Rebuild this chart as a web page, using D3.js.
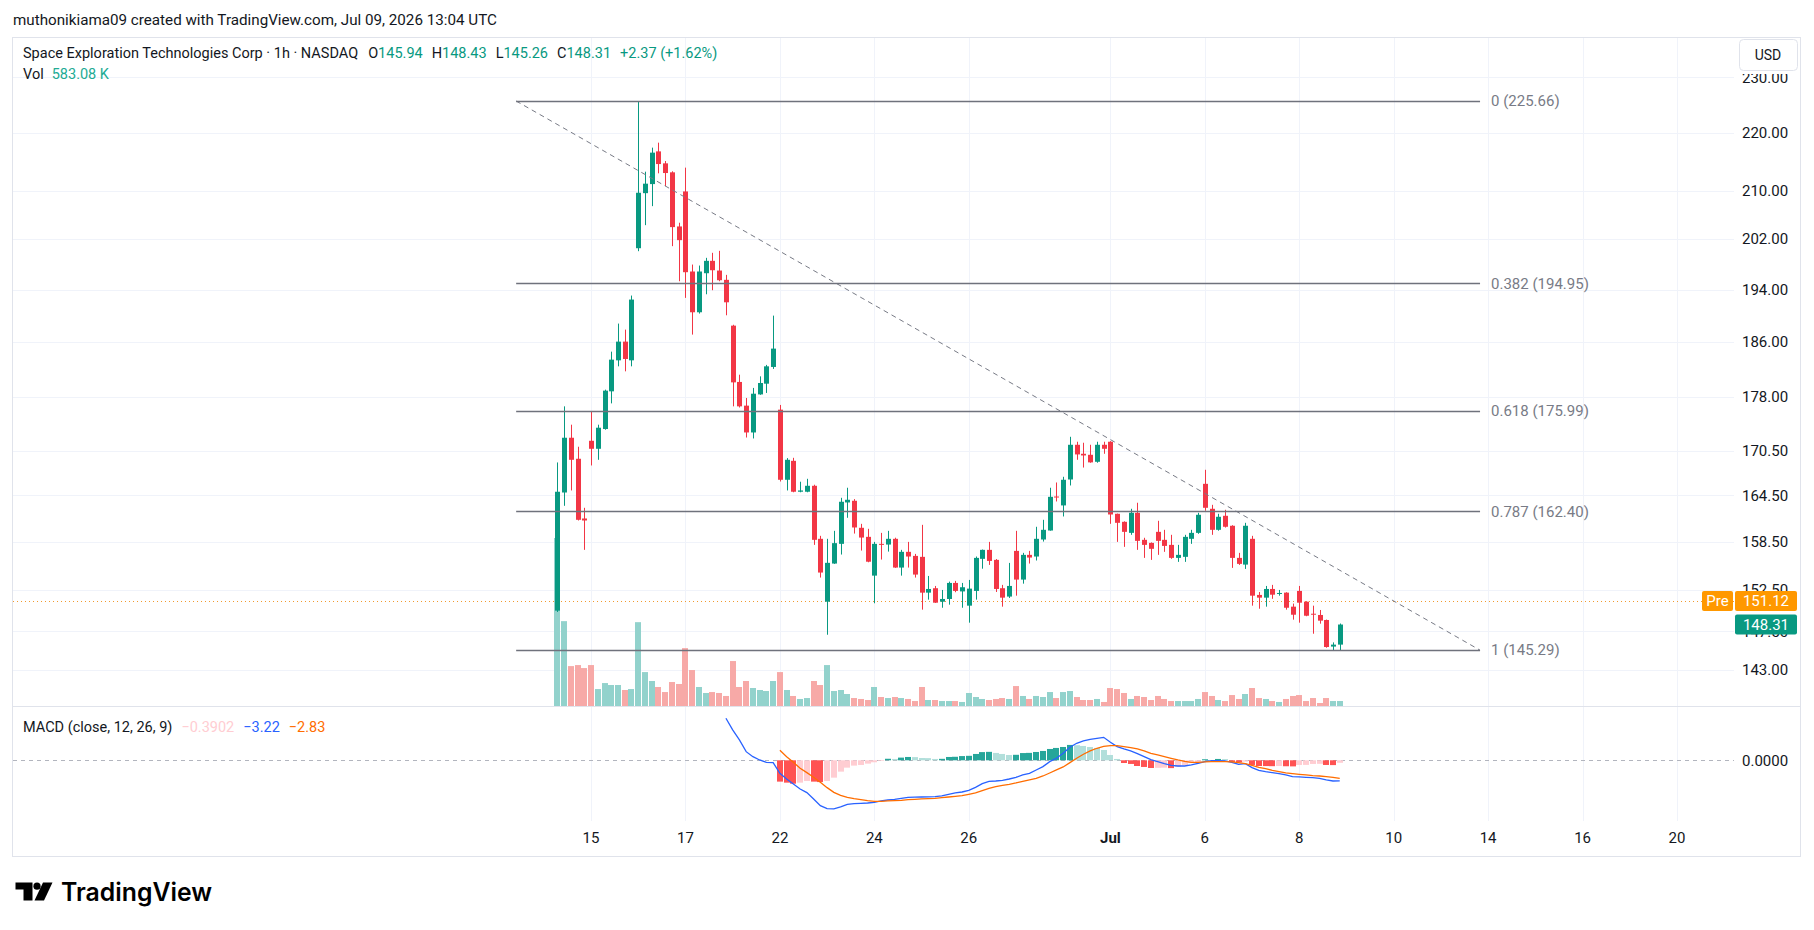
<!DOCTYPE html>
<html>
<head>
<meta charset="utf-8">
<script src="https://cdn.jsdelivr.net/npm/d3@7"></script>
<style>
  body { margin: 0; background: #fff; }
  svg { display: block; font-family: Roboto, "Noto Sans", sans-serif; }
</style>
</head>
<body>
<svg id="chart"></svg>
<script>
// 1h bars, Jun 12 (5 bars) .. Jul 8, 7 bars per session
const opens = [
  149.97, 164.87, 172.27, 169.39, 161.47,
  171.85, 170.75, 173.48, 178.80, 183.30, 186.07, 183.30,
  200.54, 209.59, 211.12, 216.73, 214.66, 213.12, 204.07,
  209.88, 196.83, 190.50, 196.56, 198.52, 196.98, 195.52,
  188.47, 180.15, 176.76, 173.00, 178.36, 179.90, 182.33,
  176.19, 166.56, 169.11, 164.97, 164.97, 165.76, 158.86,
  151.05, 155.74, 158.22, 163.56, 163.78, 160.27, 159.11,
  154.24, 158.22, 158.13, 158.86, 155.24, 157.21, 156.70,
  156.58, 152.15, 152.69, 151.05, 151.38, 153.34, 152.30,
  150.57, 152.36, 156.33, 157.46, 156.20, 152.69, 151.67,
  157.33, 153.75, 156.83, 156.62, 158.77, 159.92, 164.34,
  163.17, 166.60, 171.30, 170.07, 169.93, 168.98, 171.30,
  171.72, 162.08, 161.04, 159.62, 162.21, 158.73, 158.34,
  159.75, 158.73, 158.09, 156.45, 156.58, 158.86, 159.62,
  166.02, 162.73, 160.01, 161.82, 160.53, 156.45, 155.61,
  158.86, 151.87, 151.54, 152.60, 152.03, 152.15, 150.45,
  152.36, 151.05, 149.60, 149.45, 148.85, 145.71, 145.94
];
const highs = [
  168.89, 176.66, 174.08, 171.03, 162.86,
  175.95, 174.08, 179.04, 184.58, 188.78, 187.87, 193.07,
  225.66, 213.23, 217.38, 218.25, 215.06, 213.30, 204.68,
  213.92, 197.93, 197.77, 199.00, 199.80, 200.12, 196.30,
  188.60, 181.20, 177.85, 179.29, 180.96, 182.63, 189.99,
  176.86, 169.48, 169.52, 166.30, 166.69, 165.90, 159.24,
  158.86, 159.88, 164.17, 165.50, 164.00, 160.78, 160.14,
  158.47, 159.62, 159.88, 159.00, 157.46, 158.47, 156.95,
  160.65, 154.20, 152.97, 152.48, 153.50, 153.59, 153.34,
  153.71, 156.62, 157.50, 158.47, 156.30, 153.10, 155.82,
  159.88, 157.08, 157.33, 160.40, 161.30, 165.50, 166.20,
  166.96, 172.40, 171.72, 171.58, 171.30, 171.72, 171.72,
  171.80, 162.10, 161.10, 162.73, 163.52, 158.99, 158.40,
  161.17, 160.01, 159.37, 158.09, 159.37, 160.01, 162.21,
  167.90, 163.25, 162.08, 162.60, 160.60, 157.08, 160.91,
  159.24, 152.23, 152.97, 153.10, 152.48, 152.20, 150.82,
  152.97, 151.10, 150.57, 150.05, 148.90, 146.20, 148.43
];
const lows = [
  149.81, 163.12, 165.14, 161.21, 157.46,
  168.48, 169.25, 173.38, 177.08, 182.42, 181.69, 182.42,
  200.06, 204.28, 207.42, 212.95, 210.78, 200.87, 195.30,
  192.71, 187.12, 190.30, 193.27, 193.90, 195.30, 190.04,
  176.66, 176.50, 172.30, 172.17, 178.30, 178.57, 182.04,
  166.33, 165.14, 164.90, 164.90, 164.90, 158.09, 154.00,
  147.10, 155.70, 156.87, 161.56, 159.53, 157.37, 155.90,
  150.86, 156.24, 157.24, 155.20, 154.24, 155.24, 154.00,
  150.09, 151.30, 150.90, 150.32, 150.69, 152.20, 150.32,
  148.53, 151.30, 155.10, 155.57, 152.23, 150.45, 151.50,
  151.78, 153.25, 155.74, 156.12, 158.51, 159.90, 163.69,
  161.73, 165.80, 169.25, 168.20, 168.85, 168.85, 170.07,
  160.78, 158.47, 157.84, 159.37, 157.46, 156.45, 156.20,
  156.83, 157.21, 156.33, 155.95, 155.95, 158.22, 159.50,
  162.47, 159.37, 159.90, 160.30, 155.20, 155.57, 155.07,
  150.57, 150.20, 150.45, 151.40, 151.78, 150.09, 148.89,
  148.53, 149.30, 147.22, 148.41, 145.58, 145.29, 145.26
];
const closes = [
  164.97, 172.27, 169.25, 161.30, 161.21,
  170.75, 173.66, 178.90, 183.40, 186.07, 183.50, 192.45,
  209.66, 211.19, 216.51, 214.54, 213.00, 203.96, 201.84,
  196.72, 190.50, 196.83, 198.52, 197.03, 195.46, 192.03,
  180.09, 176.66, 173.00, 178.46, 180.00, 182.42, 185.03,
  166.56, 169.25, 164.97, 165.14, 165.76, 158.73, 154.62,
  155.83, 158.31, 163.65, 163.91, 160.31, 159.02, 155.97,
  158.22, 158.13, 158.86, 155.24, 157.21, 156.62, 154.37,
  152.15, 152.60, 150.93, 151.38, 153.34, 152.36, 152.81,
  152.64, 156.45, 157.46, 156.07, 152.60, 151.54, 152.97,
  153.75, 156.83, 156.49, 158.86, 160.01, 164.30, 164.21,
  166.56, 171.30, 169.98, 169.84, 168.90, 171.30, 170.75,
  161.99, 160.91, 159.75, 162.21, 158.60, 158.09, 157.59,
  158.60, 157.96, 156.45, 156.83, 159.11, 159.62, 161.95,
  162.86, 160.01, 161.69, 160.40, 156.45, 155.70, 160.53,
  151.78, 151.54, 152.60, 151.90, 152.11, 150.32, 149.48,
  150.93, 149.36, 149.48, 148.77, 145.66, 145.94, 148.31
];
// volume in thousands
const volumes = [
  19620, 9910, 4660, 4780, 4430,
  4780, 1980, 2680, 2450, 2450, 1870, 1980,
  9790, 3960, 2920, 2220, 1630, 2800, 2570,
  6760, 4200, 2220, 1520, 1630, 1520, 1170,
  5250, 2220, 2920, 2100, 1870, 1750, 2920,
  3960, 1870, 1170, 820, 930, 2920, 2450,
  4780, 1750, 1870, 1400, 930, 820, 700,
  2220, 1050, 930, 1050, 930, 820, 580,
  2220, 700, 700, 580, 580, 580, 470,
  1520, 1050, 820, 700, 820, 930, 820,
  2330, 1170, 820, 1170, 1050, 1630, 930,
  1630, 1750, 1050, 700, 700, 820, 470,
  2100, 1980, 1520, 820, 1170, 1050, 700,
  1170, 820, 580, 580, 580, 580, 820,
  1630, 1170, 700, 580, 1280, 820, 1400,
  2100, 930, 820, 580, 470, 820, 1170,
  1280, 580, 930, 350, 930, 580, 583.08
];

// MACD (12, 26, 9)
const macdStart = 25;
const macdLine = [
  6.56, 4.74, 3.18, 1.35, 0.57, 0.05, -0.31, -0.36,
  -2.03, -2.92, -3.70, -4.48, -5.05, -6.04, -7.08, -7.55, -7.60, -7.29,
  -6.88, -6.77, -6.72, -6.67, -6.56, -6.35, -6.20, -6.09, -5.94, -5.78,
  -5.75, -5.73, -5.72, -5.68, -5.57, -5.31, -5.10, -4.95, -4.69, -4.22,
  -3.65, -3.28, -3.23, -3.13, -2.92, -2.66, -2.26, -2.03, -1.51, -0.99,
  -0.21, 0.31, 1.09, 2.03, 2.66, 3.02, 3.28, 3.44, 3.59, 2.81,
  2.14, 1.77, 1.46, 1.04, 0.57, 0.10, -0.21, -0.52, -0.78, -0.89,
  -0.89, -0.73, -0.47, -0.21, -0.05, -0.05, -0.10, -0.31, -0.63, -0.52,
  -1.15, -1.56, -1.77, -1.93, -2.08, -2.29, -2.55, -2.60, -2.66, -2.71,
  -2.81, -3.07, -3.23, -3.22
];
const signalStart = 33;
const signalLine = [
  1.56, 0.57, -0.31, -1.25, -1.93, -2.66, -3.44, -4.27, -5.00, -5.47,
  -5.78, -5.99, -6.15, -6.30, -6.41, -6.41, -6.35, -6.30, -6.25, -6.15,
  -6.09, -6.04, -5.99, -5.94, -5.83, -5.73, -5.63, -5.52, -5.31, -5.10,
  -4.74, -4.38, -4.11, -3.91, -3.75, -3.54, -3.28, -3.05, -2.81, -2.45,
  -1.98, -1.51, -1.04, -0.36, 0.31, 0.94, 1.46, 1.88, 2.19, 2.29,
  2.29, 2.14, 1.98, 1.77, 1.46, 1.09, 0.83, 0.57, 0.31, 0.05,
  -0.16, -0.31, -0.31, -0.26, -0.21, -0.21, -0.21, -0.26, -0.36, -0.52,
  -0.78, -1.09, -1.30, -1.56, -1.77, -1.98, -2.08, -2.19, -2.29, -2.40,
  -2.45, -2.55, -2.66, -2.83
];
const histogram = [
  -3.33, -3.49, -3.65, -3.49, -3.23, -3.33, -3.40, -3.23, -2.71, -1.77,
  -1.15, -0.83, -0.73, -0.52, -0.31, -0.10, 0.24, 0.21, 0.42, 0.52,
  0.50, 0.36, 0.34, 0.21, 0.23, 0.52, 0.55, 0.66, 0.70, 0.99,
  1.28, 1.32, 1.15, 0.99, 0.83, 0.86, 1.13, 1.16, 1.30, 1.46,
  1.77, 1.93, 2.08, 2.40, 2.36, 2.24, 2.08, 1.93, 1.61, 0.83,
  0.21, -0.42, -0.57, -0.89, -1.04, -1.20, -1.18, -1.15, -1.22, -1.04,
  -0.73, -0.42, -0.26, 0.16, 0.05, 0.21, 0.19, -0.26, -0.31, -0.21,
  -0.73, -0.89, -0.90, -0.92, -0.89, -0.93, -0.95, -0.73, -0.72, -0.57,
  -0.55, -0.73, -0.75, -0.3902
];

// time axis: bar index of first bar of each labelled session
const dateIdx = [5, 19, 33, 47, 61, 82, 96, 110, 124, 138, 152, 166];
const dateLabels = ["15", "17", "22", "24", "26", "Jul", "6", "8", "10", "14", "16", "20"];
const priceTicks = [230, 220, 210, 202, 194, 186, 178, 170.5, 164.5, 158.5, 152.5, 147.5, 143];

// fib retracement drawing
const fibRatios = [0, 0.382, 0.618, 0.787, 1];
const fibPrices = [225.66, 194.95, 175.99, 162.40, 145.29];
const fibFromIdx = -6.1;
const fibToIdx = 136.8;

const prePrice = 151.12;

const W = 1814;
const H = 930;
const padL = 13, plotR = 1734, boxR = 1800;
const chartTop = 38, mainBottom = 706, macdBottom = 821, boxBottom = 856;

const upColor = "#089981";
const downColor = "#f23645";
const textColor = "#131722";
const gridColor = "#f0f3fa";

const svg = d3.select("#chart").attr("width", W).attr("height", H);
svg.append("rect").attr("width", W).attr("height", H).attr("fill", "#fff");

const x = d3.scaleLinear().domain([0, 166]).range([557.3, 1677]);
const y = d3.scaleLog().domain([143, 220]).range([670, 132.7]);
const yVol = d3.scaleLinear().domain([0, d3.max(volumes)]).range([mainBottom, mainBottom - 168]);
const yMacd = d3.scaleLinear().domain([-9.48, 8.48]).range([macdBottom, mainBottom]);

const bars = opens.map((o, i) => ({ i, o, h: highs[i], l: lows[i], c: closes[i], v: volumes[i] }));
const lastBar = bars[bars.length - 1];
const px = v => Math.round(v) + 0.5;

// header
svg.append("text")
    .attr("x", 13).attr("y", 25)
    .style("font-size", "15.2px").attr("fill", textColor)
    .text("muthonikiama09 created with TradingView.com, Jul 09, 2026 13:04 UTC");

// chart frame
svg.append("rect")
    .attr("x", padL - 0.5).attr("y", chartTop - 0.5)
    .attr("width", boxR - padL + 1).attr("height", boxBottom - chartTop + 1)
    .attr("fill", "none").attr("stroke", "#e0e3eb");

const defs = svg.append("defs");
defs.append("clipPath").attr("id", "clipMain")
    .append("rect").attr("x", padL).attr("y", chartTop).attr("width", plotR - padL).attr("height", mainBottom - chartTop);
defs.append("clipPath").attr("id", "clipMacd")
    .append("rect").attr("x", padL).attr("y", mainBottom).attr("width", plotR - padL).attr("height", macdBottom - mainBottom);

// grid
svg.append("g").selectAll("line")
    .data(dateIdx)
    .enter().append("line")
    .attr("x1", d => px(x(d))).attr("x2", d => px(x(d)))
    .attr("y1", chartTop).attr("y2", macdBottom)
    .attr("stroke", gridColor);

svg.append("g").selectAll("line")
    .data(priceTicks)
    .enter().append("line")
    .attr("x1", padL).attr("x2", plotR)
    .attr("y1", d => px(y(d))).attr("y2", d => px(y(d)))
    .attr("stroke", gridColor);

svg.append("line")
    .attr("x1", padL).attr("x2", boxR)
    .attr("y1", mainBottom + 0.5).attr("y2", mainBottom + 0.5)
    .attr("stroke", "#e0e3eb");

const main = svg.append("g").attr("clip-path", "url(#clipMain)");

// volume
main.append("g").selectAll("rect")
    .data(bars)
    .enter().append("rect")
    .attr("x", d => Math.round(x(d.i)) - 3)
    .attr("y", d => yVol(d.v))
    .attr("width", 6)
    .attr("height", d => mainBottom - yVol(d.v))
    .attr("fill", d => d.c >= d.o ? "#92d2cc" : "#f7a9a7");

// premarket line
main.append("line")
    .attr("x1", padL).attr("x2", plotR)
    .attr("y1", px(y(prePrice))).attr("y2", px(y(prePrice)))
    .attr("stroke", "#f19a2f").attr("stroke-dasharray", "1,3");

// candles
const candle = main.append("g").selectAll("g")
    .data(bars)
    .enter().append("g")
    .attr("fill", d => d.c >= d.o ? upColor : downColor)
    .attr("stroke", d => d.c >= d.o ? upColor : downColor);

candle.append("line")
    .attr("x1", d => px(x(d.i))).attr("x2", d => px(x(d.i)))
    .attr("y1", d => y(d.h)).attr("y2", d => y(d.l));

candle.append("rect")
    .attr("stroke", "none")
    .attr("x", d => Math.round(x(d.i)) - 2)
    .attr("y", d => y(Math.max(d.o, d.c)))
    .attr("width", 5)
    .attr("height", d => Math.max(1, Math.abs(y(d.o) - y(d.c))));

// fib retracement
const fib = main.append("g");
fib.append("line")
    .attr("x1", x(fibFromIdx)).attr("y1", y(fibPrices[0]))
    .attr("x2", x(fibToIdx)).attr("y2", y(fibPrices[fibPrices.length - 1]))
    .attr("stroke", "#787b86").attr("stroke-dasharray", "5,4");

fib.selectAll(".lvl")
    .data(fibPrices)
    .enter().append("line")
    .attr("class", "lvl")
    .attr("x1", x(fibFromIdx)).attr("x2", x(fibToIdx))
    .attr("y1", d => Math.round(y(d)) + 0.5).attr("y2", d => Math.round(y(d)) + 0.5)
    .attr("stroke", "#6f727c").attr("stroke-width", 1.4);

fib.selectAll("text")
    .data(fibPrices)
    .enter().append("text")
    .attr("x", x(fibToIdx) + 11)
    .attr("y", d => y(d))
    .attr("dy", "0.35em")
    .style("font-size", "15px")
    .attr("fill", "#787b86")
    .text((d, i) => fibRatios[i] + " (" + d.toFixed(2) + ")");

// MACD pane
const macdG = svg.append("g").attr("clip-path", "url(#clipMacd)");
const histData = histogram.map((v, k) => ({ i: signalStart + k, v, prev: k ? histogram[k - 1] : 0 }));

macdG.append("line")
    .attr("x1", padL).attr("x2", plotR)
    .attr("y1", px(yMacd(0))).attr("y2", px(yMacd(0)))
    .attr("stroke", "#b2b5be").attr("stroke-dasharray", "4,4");

macdG.append("g").selectAll("rect")
    .data(histData)
    .enter().append("rect")
    .attr("x", d => Math.round(x(d.i)) - 3)
    .attr("width", 6)
    .attr("y", d => yMacd(Math.max(0, d.v)))
    .attr("height", d => Math.abs(yMacd(d.v) - yMacd(0)))
    .attr("fill", d => d.v >= 0
        ? (d.v >= d.prev ? "#26a69a" : "#b2dfdb")
        : (d.v <= d.prev ? "#ff5252" : "#ffcdd2"));

const lineGen = d3.line().x(d => x(d[0])).y(d => yMacd(d[1]));

macdG.append("path")
    .datum(macdLine.map((v, k) => [macdStart + k, v]))
    .attr("d", lineGen)
    .attr("fill", "none").attr("stroke", "#2962ff").attr("stroke-width", 1.3);

macdG.append("path")
    .datum(signalLine.map((v, k) => [signalStart + k, v]))
    .attr("d", lineGen)
    .attr("fill", "none").attr("stroke", "#ff6d00").attr("stroke-width", 1.3);

// price axis
svg.append("g").selectAll("text")
    .data(priceTicks)
    .enter().append("text")
    .attr("x", 1742).attr("y", d => y(d)).attr("dy", "0.35em")
    .style("font-size", "15px").attr("fill", textColor)
    .text(d => d.toFixed(2));

svg.append("text")
    .attr("x", 1742).attr("y", yMacd(0)).attr("dy", "0.35em")
    .style("font-size", "15px").attr("fill", textColor)
    .text("0.0000");

// USD button (covers the top of the scale)
svg.append("rect")
    .attr("x", 1735).attr("y", chartTop).attr("width", boxR - 1735).attr("height", 36)
    .attr("fill", "#fff");
svg.append("rect")
    .attr("x", 1739.5).attr("y", 39.5).attr("width", 58).attr("height", 31).attr("rx", 4)
    .attr("fill", "#fff").attr("stroke", "#e0e3eb");
svg.append("text")
    .attr("x", 1768).attr("y", 55).attr("dy", "0.35em").attr("text-anchor", "middle")
    .style("font-size", "14px").attr("fill", textColor).text("USD");

// price labels
const preY = y(prePrice);
svg.append("rect").attr("x", 1702).attr("y", preY - 10).attr("width", 31).attr("height", 20).attr("rx", 2).attr("fill", "#ff9800");
svg.append("text").attr("x", 1717.5).attr("y", preY).attr("dy", "0.35em").attr("text-anchor", "middle")
    .style("font-size", "15px").attr("fill", "#fff").text("Pre");
svg.append("rect").attr("x", 1735).attr("y", preY - 10).attr("width", 62).attr("height", 20).attr("rx", 2).attr("fill", "#ff9800");
svg.append("text").attr("x", 1766).attr("y", preY).attr("dy", "0.35em").attr("text-anchor", "middle")
    .style("font-size", "15px").attr("fill", "#fff").text(prePrice.toFixed(2));

const lastY = y(lastBar.c);
svg.append("rect").attr("x", 1735).attr("y", lastY - 10).attr("width", 62).attr("height", 20).attr("rx", 2).attr("fill", upColor);
svg.append("text").attr("x", 1766).attr("y", lastY).attr("dy", "0.35em").attr("text-anchor", "middle")
    .style("font-size", "15px").attr("fill", "#fff").text(lastBar.c.toFixed(2));

// time axis
svg.append("g").selectAll("text")
    .data(dateIdx)
    .enter().append("text")
    .attr("x", d => x(d)).attr("y", 838).attr("dy", "0.35em")
    .attr("text-anchor", "middle")
    .style("font-size", "15px")
    .style("font-weight", (d, k) => dateLabels[k] === "Jul" ? "bold" : "normal")
    .attr("fill", textColor)
    .text((d, k) => dateLabels[k]);

// legend
const prevBar = bars[bars.length - 2];
const chg = lastBar.c - prevBar.c;
const legend = svg.append("text").attr("x", 23).attr("y", 53).attr("dy", "0.35em")
    .style("font-size", "14.5px").attr("fill", textColor);
legend.append("tspan").text("Space Exploration Technologies Corp · 1h · NASDAQ");
[["O", lastBar.o], ["H", lastBar.h], ["L", lastBar.l], ["C", lastBar.c]].forEach((p, k) => {
    legend.append("tspan").attr("dx", k === 0 ? 10 : 9).text(p[0]);
    legend.append("tspan").attr("fill", upColor).text(p[1].toFixed(2));
});
legend.append("tspan").attr("dx", 9).attr("fill", upColor)
    .text("+" + chg.toFixed(2) + " (+" + (chg / prevBar.c * 100).toFixed(2) + "%)");

const volLegend = svg.append("text").attr("x", 23).attr("y", 74).attr("dy", "0.35em")
    .style("font-size", "14.5px").attr("fill", textColor);
volLegend.append("tspan").text("Vol");
volLegend.append("tspan").attr("dx", 8).attr("fill", "#22ab94").text(lastBar.v.toFixed(2) + " K");

const macdLegend = svg.append("text").attr("x", 23).attr("y", 727).attr("dy", "0.35em")
    .style("font-size", "14.5px").attr("fill", textColor);
macdLegend.append("tspan").text("MACD (close, 12, 26, 9)");
const fmt = v => (v < 0 ? "\u2212" : "") + Math.abs(v);
macdLegend.append("tspan").attr("dx", 9).attr("fill", "#ffcdd2").text(fmt(histogram[histogram.length - 1]));
macdLegend.append("tspan").attr("dx", 9).attr("fill", "#2962ff").text(fmt(macdLine[macdLine.length - 1]));
macdLegend.append("tspan").attr("dx", 9).attr("fill", "#ff6d00").text(fmt(signalLine[signalLine.length - 1]));

// TradingView logo
const logo = svg.append("g").attr("fill", "#000");
logo.append("path").attr("d", "M15.5,882.5 H32.5 V900.5 H23.5 V889.5 H15.5 Z");
logo.append("circle").attr("cx", 37).attr("cy", 886.2).attr("r", 3.6);
logo.append("path").attr("d", "M43,882.5 H52.5 L44,900.5 H34.5 Z");
svg.append("text")
    .attr("x", 61).attr("y", 901)
    .attr("textLength", 151).attr("lengthAdjust", "spacingAndGlyphs")
    .style("font-family", "Inter, Roboto, sans-serif")
    .style("font-size", "25px").style("font-weight", "600")
    .attr("fill", "#000")
    .text("TradingView");
</script>
</body>
</html>
